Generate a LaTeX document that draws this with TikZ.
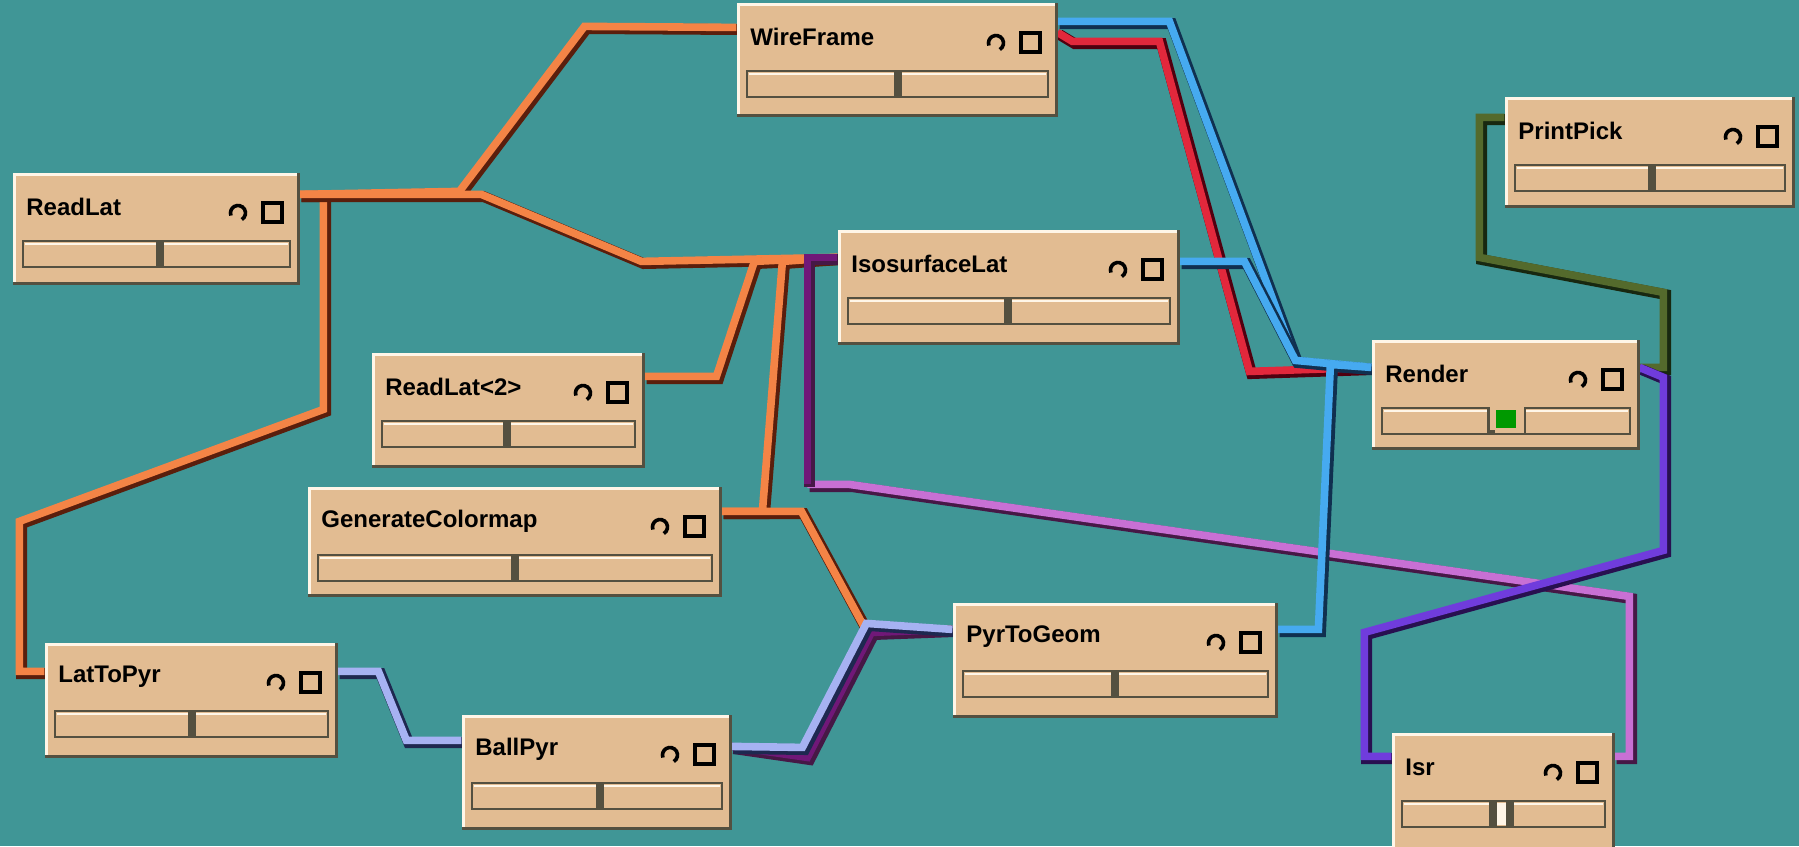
\documentclass[tikz,border=0pt]{standalone}
\usepackage{fontspec}
\setmainfont{Liberation Sans}
\usetikzlibrary{calc}
\definecolor{bg}{RGB}{64,150,150}
\definecolor{tanc}{RGB}{226,188,146}
\definecolor{hil}{RGB}{255,246,232}
\definecolor{shd}{RGB}{84,80,64}
\definecolor{org}{RGB}{244,132,70}
\definecolor{orgd}{RGB}{90,30,12}
\definecolor{blu}{RGB}{70,170,240}
\definecolor{blud}{RGB}{16,48,80}
\definecolor{rd}{RGB}{226,40,60}
\definecolor{rdd}{RGB}{80,0,16}
\definecolor{vio}{RGB}{112,60,220}
\definecolor{viod}{RGB}{40,16,80}
\definecolor{pnk}{RGB}{200,112,212}
\definecolor{pnkd}{RGB}{70,24,70}
\definecolor{dpur}{RGB}{112,24,120}
\definecolor{grn}{RGB}{84,106,44}
\definecolor{grnd}{RGB}{24,40,16}
\definecolor{lav}{RGB}{166,178,242}
\definecolor{lavd}{RGB}{30,40,80}
\tikzset{
  modtitle/.style={inner sep=0pt, font=\fontsize{12}{14}\selectfont\bfseries, text=black},
  iconline/.style={line width=1.8pt, black},
}
\newcommand\wire[3]{%
  \draw[line width=5.4pt, #2, line join=miter, transform canvas={shift={(0.8pt,-0.8pt)}}] #3;
  \draw[line width=3.8pt, #1, line join=miter, transform canvas={shift={(-0.3pt,0.3pt)}}] #3;
}
\newcommand\module[7]{%
  \node[fill=tanc, inner sep=0pt, minimum width={(#5-#3)*0.5pt}, minimum height={(#6-#4)*0.5pt}] (#1) at ({(#3+#5)/2},{(#4+#6)/2}) {};
  \draw[hil, line width=1.6pt] ({#3+1.6},{#6}) -- ({#3+1.6},{#4+1.6}) -- (#5,{#4+1.6});
  \draw[shd, line width=1.6pt] (#3,{#6-1.6}) -- ({#5-1.6},{#6-1.6}) -- ({#5-1.6},#4);
  \node[modtitle, anchor=west] (#1-t) at ({#3+13},{#4+34}) {#2};
  \draw[iconline] ($({#5-62},{#4+40})+(60:7.5)$) arc[start angle=60, end angle=-200, radius=7.5];
  \draw[iconline] ({#5-37},{#4+30}) rectangle ({#5-18},{#4+49});
  \draw[shd, line width=1.3pt] ({#3+10},{#4+68}) rectangle ({#5-10},{#4+94});
  \draw[hil, line width=1.3pt] ({#3+12},{#4+71}) -- ({#5-12},{#4+71});
  \draw[shd, line width=3.6pt] (#7,{#4+68}) -- (#7,{#4+94});
}
\begin{document}
\begin{tikzpicture}[x=0.5pt, y=-0.5pt]
\useasboundingbox (0,0) rectangle (1799,846);
\fill[bg] (0,0) rectangle (1799,846);

% ports
\coordinate (rl-o) at (300,195);
\coordinate (wf-i) at (737,28);
\coordinate (wf-ob) at (1058,22);
\coordinate (wf-or) at (1058,33);
\coordinate (is-i) at (838,258);
\coordinate (is-o) at (1180,262);
\coordinate (lp-i) at (45,672);
\coordinate (lp-o) at (338,672);
\coordinate (r2-o) at (645,377);
\coordinate (gc-o) at (722,512);
\coordinate (pg-i) at (953,630);
\coordinate (pg-o) at (1278,630);
\coordinate (bp-i) at (462,741);
\coordinate (bp-o) at (732,747);
\coordinate (rn-i) at (1372,368);
\coordinate (rn-o) at (1640,368);
\coordinate (pp-i) at (1505,118);
\coordinate (ir-i) at (1392,757);
\coordinate (ir-o) at (1615,757);

% wires
\wire{org}{orgd}{(rl-o) -- (324,195) -- (324,410) -- (20,522) -- (20,672) -- (lp-i)}
\wire{org}{orgd}{(rl-o) -- (460,192) -- (585,27) -- (wf-i)}
\wire{org}{orgd}{(rl-o) -- (482,195) -- (642,262) -- (is-i)}
\wire{org}{orgd}{(r2-o) -- (717,377) -- (755,262) -- (is-i)}
\wire{org}{orgd}{(gc-o) -- (763,512) -- (783,262) -- (is-i)}
\wire{org}{orgd}{(gc-o) -- (802,512) -- (865,628) -- (pg-i)}
\wire{lav}{lavd}{(lp-o) -- (379,672) -- (407,741) -- (bp-i)}
\wire{dpur}{pnkd}{(bp-o) -- (808,758) -- (872,633) -- (pg-i)}
\wire{lav}{lavd}{(bp-o) -- (803,748) -- (867,624) -- (pg-i)}
\wire{pnk}{pnkd}{(ir-o) -- (1630,757) -- (1630,597) -- (850,485) -- (808,485)}
\wire{dpur}{pnkd}{(808,485) -- (808,258) -- (is-i)}
\wire{blu}{blud}{(wf-ob) -- (1170,22) -- (1296,361) -- (rn-i)}
\wire{rd}{rdd}{(wf-or) -- (1073,42) -- (1160,42) -- (1250,372) -- (rn-i)}
\wire{blu}{blud}{(is-o) -- (1245,262) -- (1296,361) -- (rn-i)}
\wire{blu}{blud}{(pg-o) -- (1319,630) -- (1331,365) -- (rn-i)}
\wire{grn}{grnd}{(rn-o) -- (1664,368) -- (1664,293) -- (1480,258) -- (1480,118) -- (pp-i)}
\wire{vio}{viod}{(rn-o) -- (1664,378) -- (1664,551) -- (1365,633) -- (1365,757) -- (ir-i)}

% modules
\module{wireframe}{WireFrame}{737}{3}{1058}{117}{898}
\module{readlat}{ReadLat}{13}{173}{300}{285}{160}
\module{readlat2}{ReadLat<2>}{372}{353}{645}{468}{507}
\module{gencol}{GenerateColormap}{308}{487}{722}{597}{515}
\module{isosurf}{IsosurfaceLat}{838}{230}{1180}{345}{1008}
\module{render}{Render}{1372}{340}{1640}{450}{1491}
\module{printpick}{PrintPick}{1505}{97}{1795}{208}{1652}
\module{lattopyr}{LatToPyr}{45}{643}{338}{758}{192}
\module{ballpyr}{BallPyr}{462}{715}{732}{830}{600}
\module{pyrtogeom}{PyrToGeom}{953}{603}{1278}{718}{1115}
\module{isr}{Isr}{1392}{733}{1615}{856}{1493}
% render: green indicator
\fill[tanc] (1490,407) rectangle (1524,430);
\draw[shd, line width=1.3pt] (1488,408) -- (1488,434);
\draw[shd, line width=1.3pt] (1525,408) -- (1525,434);
\fill[green!60!black] (1496,410) rectangle (1516,428);
% isr: second divider
\draw[shd, line width=3.6pt] (1510,801) -- (1510,827);
\fill[hil] (1497,803) rectangle (1506,825);
\end{tikzpicture}
\end{document}
